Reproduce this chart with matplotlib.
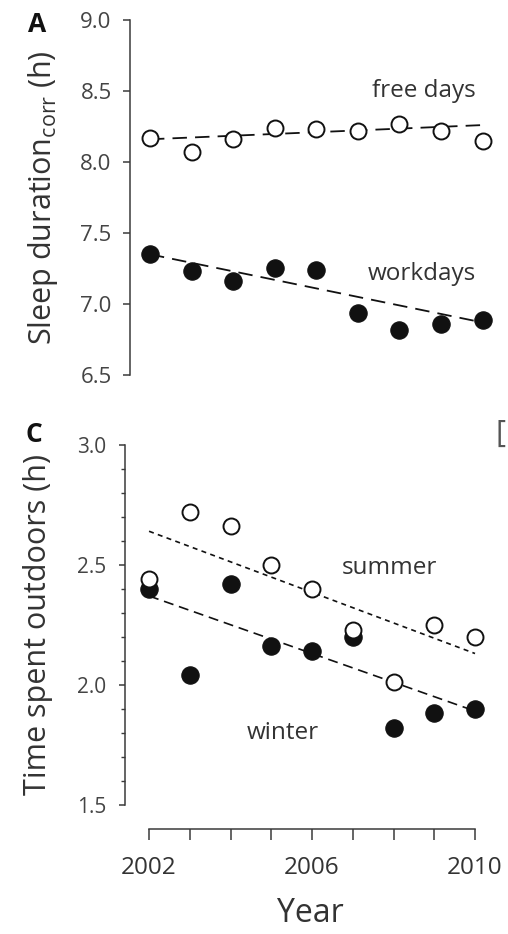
import matplotlib.pyplot as plt

plt.rcParams['font.family'] = ['Open Sans', 'DejaVu Sans']

years = [2002, 2003, 2004, 2005, 2006, 2007, 2008, 2009, 2010]
trend_years = [2002, 2010]

# sleep duration (h)
free_days = [8.17, 8.07, 8.16, 8.24, 8.23, 8.22, 8.27, 8.22, 8.15]
workdays = [7.35, 7.23, 7.16, 7.25, 7.24, 6.94, 6.82, 6.86, 6.89]
free_trend = [8.16, 8.26]
work_trend = [7.35, 6.87]

# time spent outdoors (h)
summer = [2.44, 2.72, 2.66, 2.50, 2.40, 2.23, 2.01, 2.25, 2.20]
winter = [2.40, 2.04, 2.42, 2.16, 2.14, 2.20, 1.82, 1.88, 1.90]
summer_trend = [2.64, 2.13]
winter_trend = [2.37, 1.89]

sleep_ticks = [6.5, 7.0, 7.5, 8.0, 8.5, 9.0]
outdoor_ticks = [1.5, 2.0, 2.5, 3.0]
outdoor_minor = [1.6, 1.7, 1.8, 1.9, 2.1, 2.2, 2.3, 2.4, 2.6, 2.7, 2.8, 2.9]
year_ticks = [2002, 2006, 2010]

ink = '#111111'
grey = '#3a3a3a'

fig = plt.figure(figsize=(5.08, 9.34), dpi=100)
ax1 = fig.add_axes([0.2559, 0.5985, 0.7349, 0.3801])
ax2 = fig.add_axes([0.2461, 0.1386, 0.7291, 0.3850])

open_style = dict(linestyle='none', marker='o', ms=11.5, mfc='white',
                  mec=ink, mew=1.4, zorder=4)
fill_style = dict(linestyle='none', marker='o', ms=12.5, mfc=ink,
                  mec=ink, mew=0.8, zorder=3)

# panel A
ax1.plot(trend_years, free_trend, color=ink, lw=1.3, dashes=(8, 4.5), zorder=2)
ax1.plot(trend_years, work_trend, color=ink, lw=1.3, dashes=(8, 4.5), zorder=2)
ax1.plot(years, workdays, **fill_style)
ax1.plot(years, free_days, **open_style)
ax1.set_xlim(2001.52, 2010.5)
ax1.set_ylim(6.5, 9.0)
ax1.set_yticks(sleep_ticks)
ax1.set_yticklabels([f'{v:.1f}' for v in sleep_ticks])
ax1.set_xticks([])
for s in ['top', 'right', 'bottom']:
    ax1.spines[s].set_visible(False)
ax1.spines['left'].set_color(grey)
ax1.spines['left'].set_linewidth(1.1)
ax1.tick_params(axis='y', length=4.8, width=1.1, color=grey, pad=8.4,
                labelsize=16, labelcolor='#444444')
ax1.set_ylabel('Sleep duration$_\\mathregular{corr}$ (h)', fontsize=22,
               color='#333333', va='center')
ax1.yaxis.set_label_coords(-0.233, 0.5)
ax1.text(2008.6, 8.458, 'free days', ha='center', va='baseline',
         fontsize=17.5, color='#333333')
ax1.text(2008.53, 7.169, 'workdays', ha='center', va='baseline',
         fontsize=17.5, color='#333333')

# panel C
ax2.plot(trend_years, summer_trend, color=ink, lw=1.2, dashes=(3, 2.6), zorder=2)
ax2.plot(trend_years, winter_trend, color=ink, lw=1.2, dashes=(6, 3.5), zorder=2)
ax2.plot(years, winter, **fill_style)
ax2.plot(years, summer, **open_style)
ax2.set_xlim(2001.41, 2010.5)
ax2.set_ylim(1.5, 3.0)
ax2.set_yticks(outdoor_ticks)
ax2.set_yticklabels([f'{v:.1f}' for v in outdoor_ticks])
ax2.set_yticks(outdoor_minor, minor=True)
ax2.set_xticks(year_ticks)
ax2.set_xticklabels([str(y) for y in year_ticks])
ax2.set_xticks(years, minor=True)
for s in ['top', 'right']:
    ax2.spines[s].set_visible(False)
for s in ['left', 'bottom']:
    ax2.spines[s].set_color(grey)
    ax2.spines[s].set_linewidth(1.1)
ax2.spines['left'].set_bounds(1.5, 3.0)
ax2.spines['bottom'].set_bounds(2002, 2010)
ax2.spines['bottom'].set_position(('outward', 17.6))
ax2.tick_params(axis='y', which='major', length=4, width=1.1, color=grey,
                pad=9.4, labelsize=15, labelcolor='#444444')
ax2.tick_params(axis='y', which='minor', length=3, width=1.0, color=grey)
ax2.tick_params(axis='x', which='both', length=8, width=1.1, color=grey,
                pad=11.5, labelsize=17.5, labelcolor='#333333')
ax2.set_ylabel('Time spent outdoors (h)', fontsize=22, color='#333333',
               va='center')
ax2.yaxis.set_label_coords(-0.236, 0.5)
ax2.text(2007.9, 2.461, 'summer', ha='center', va='baseline',
         fontsize=17.5, color='#333333')
ax2.text(2005.28, 1.774, 'winter', ha='center', va='baseline',
         fontsize=17.5, color='#333333')

fig.text(0.610, 1 - 922 / 934, 'Year', ha='center', va='baseline',
         fontsize=23, color='#333333')

# panel letters
fig.text(37.5 / 508, 1 - 32 / 934, 'A', ha='center', va='baseline',
         fontsize=19, fontweight='bold', color='#111111')
fig.text(34 / 508, 1 - 442 / 934, 'C', ha='center', va='baseline',
         fontsize=19, fontweight='bold', color='#111111')
fig.text(496 / 508, 1 - 434 / 934, '[', ha='left', va='center',
         fontsize=22, color='#555555')

fig.savefig('out.png', dpi=100, facecolor='white')
